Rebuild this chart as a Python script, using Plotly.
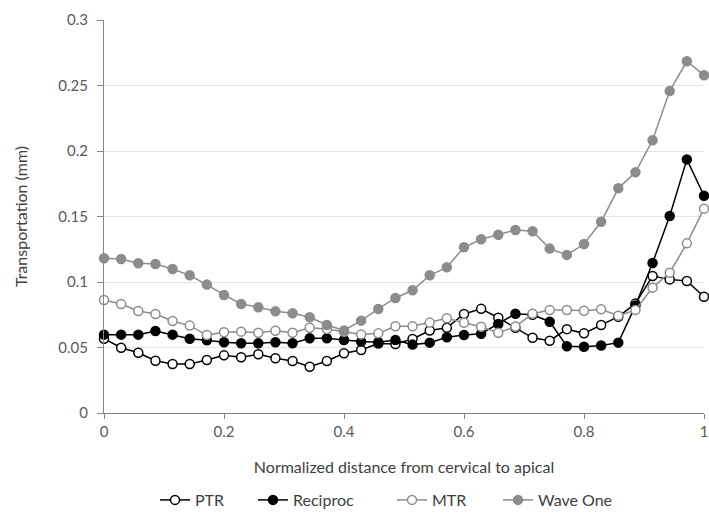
import plotly.graph_objects as go

n_points = 36
x_vals = [i / 35 for i in range(n_points)]

ptr = [0.0567, 0.0498, 0.0460, 0.0399, 0.0374, 0.0374, 0.0405, 0.0440, 0.0425, 0.0448,
       0.0418, 0.0397, 0.0353, 0.0397, 0.0456, 0.0481, 0.0530, 0.0527, 0.0565, 0.0630,
       0.0650, 0.0756, 0.0795, 0.0727, 0.0650, 0.0574, 0.0552, 0.0640, 0.0608, 0.0672,
       0.0735, 0.0835, 0.1046, 0.1020, 0.1008, 0.0888]

reciproc = [0.0598, 0.0598, 0.0598, 0.0626, 0.0598, 0.0567, 0.0555, 0.0540, 0.0532, 0.0532,
            0.0540, 0.0532, 0.0570, 0.0570, 0.0557, 0.0545, 0.0540, 0.0557, 0.0522, 0.0537,
            0.0578, 0.0595, 0.0605, 0.0680, 0.0757, 0.0750, 0.0697, 0.0510, 0.0506, 0.0515,
            0.0537, 0.0820, 0.1145, 0.1504, 0.1936, 0.1658]

mtr = [0.0863, 0.0832, 0.0779, 0.0756, 0.0702, 0.0667, 0.0595, 0.0616, 0.0621, 0.0613,
       0.0628, 0.0613, 0.0651, 0.0641, 0.0620, 0.0600, 0.0608, 0.0662, 0.0662, 0.0690,
       0.0723, 0.0689, 0.0659, 0.0613, 0.0660, 0.0758, 0.0786, 0.0786, 0.0781, 0.0792,
       0.0743, 0.0786, 0.0957, 0.1071, 0.1295, 0.1560]

wave_one = [0.1181, 0.1176, 0.1143, 0.1137, 0.1099, 0.1051, 0.0980, 0.0901, 0.0832, 0.0807,
            0.0776, 0.0761, 0.0731, 0.0672, 0.0630, 0.0705, 0.0794, 0.0878, 0.0937, 0.1051,
            0.1112, 0.1265, 0.1326, 0.1361, 0.1397, 0.1387, 0.1255, 0.1207, 0.1290, 0.1460,
            0.1715, 0.1837, 0.2082, 0.2458, 0.2685, 0.2578]

series_names = ["PTR", "Reciproc", "MTR", "Wave One"]

FONT = "Lato, Liberation Sans, sans-serif"
TEXT = "#595959"
TITLE = "#404040"

styles = {
    "PTR": dict(line="#000000", fill="#ffffff", edge="#000000"),
    "Reciproc": dict(line="#000000", fill="#000000", edge="#000000"),
    "MTR": dict(line="#8c8c8c", fill="#ffffff", edge="#8c8c8c"),
    "Wave One": dict(line="#8c8c8c", fill="#8c8c8c", edge="#8c8c8c"),
}

legend_ids = ["legend", "legend2", "legend3", "legend4"]
legend_left_px = [155, 253, 392, 498]

fig = go.Figure()
for name, ys, lid in zip(series_names, [ptr, reciproc, mtr, wave_one], legend_ids):
    s = styles[name]
    fig.add_trace(go.Scatter(
        x=x_vals, y=ys, name=name, mode="lines+markers",
        line=dict(color=s["line"], width=1.5),
        marker=dict(size=9, color=s["fill"], line=dict(color=s["edge"], width=1.5)),
        cliponaxis=False, legend=lid,
    ))

W, H = 709, 513
legend_layout = {}
for lid, lx in zip(legend_ids, legend_left_px):
    legend_layout[lid] = dict(
        orientation="h", xref="container", yref="container",
        x=lx / W, xanchor="left", y=(H - 500) / H, yanchor="middle",
        font=dict(family=FONT, size=16, color=TITLE),
        itemwidth=30, bgcolor="rgba(0,0,0,0)",
    )

fig.update_layout(
    width=W, height=H,
    margin=dict(l=104, r=5, t=20, b=100, autoexpand=False),
    paper_bgcolor="white", plot_bgcolor="white",
    font=dict(family=FONT, size=15, color=TEXT),
    showlegend=True,
    xaxis=dict(
        range=[0, 1], dtick=0.2, tick0=0, automargin=False,
        showgrid=False, zeroline=False,
        showline=True, linecolor="#868686", linewidth=1,
        ticks="outside", ticklen=5, tickcolor="#868686",
        tickfont=dict(size=15, color=TEXT),
        title=dict(text="Normalized distance from cervical to apical",
                   font=dict(size=16, color=TITLE), standoff=22),
    ),
    yaxis=dict(
        range=[0, 0.3], dtick=0.05, tick0=0, automargin=False,
        showgrid=True, gridcolor="#e3e3e3", gridwidth=1,
        zeroline=False,
        showline=True, linecolor="#868686", linewidth=1,
        ticks="outside", ticklen=6, tickcolor="#868686",
        ticklabelstandoff=6,
        tickfont=dict(size=15, color=TEXT),
        title=dict(text="Transportation (mm)",
                   font=dict(size=16, color=TITLE), standoff=26),
    ),
    **legend_layout,
)

fig.write_html(
    "out.html",
    config={"displayModeBar": False},
    post_script="document.body.style.margin='0';document.body.style.overflow='hidden';",
)
